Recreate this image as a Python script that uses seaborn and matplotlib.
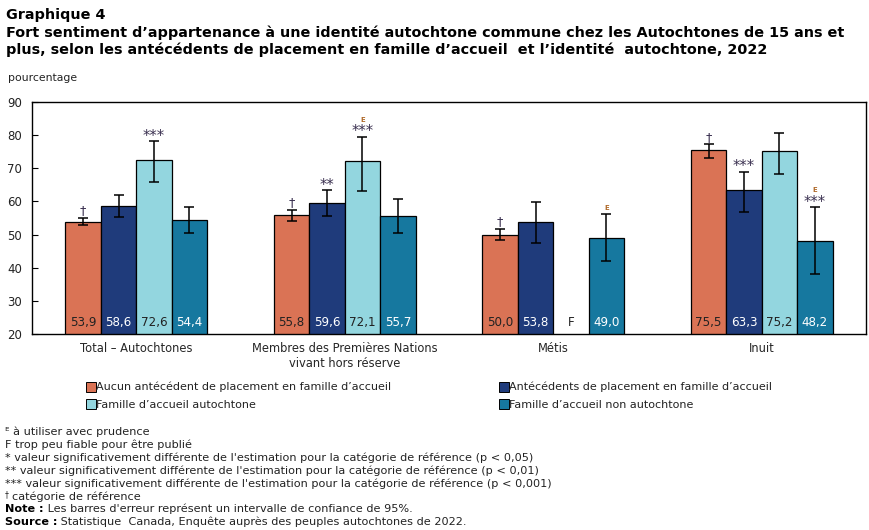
import numpy as np
import pandas as pd
import matplotlib
matplotlib.use("Agg")
import matplotlib.pyplot as plt
import seaborn as sns
from matplotlib.lines import Line2D

# ---------------- data ----------------
categories = ["Total – Autochtones",
              "Membres des Premières Nations\nvivant hors réserve",
              "Métis", "Inuit"]
series_names = ["Aucun antécédent de placement en famille d’accueil",
                "Antécédents de placement en famille d’accueil",
                "Famille d’accueil autochtone",
                "Famille d’accueil non autochtone"]

aucun = [53.9, 55.8, 50.0, 75.5]
antecedents = [58.6, 59.6, 53.8, 63.3]
fam_autochtone = [72.6, 72.1, np.nan, 75.2]
fam_non_autochtone = [54.4, 55.7, 49.0, 48.2]

aucun_lo = [52.8, 54.1, 48.3, 73.0]
aucun_hi = [55.0, 57.4, 51.7, 77.2]
antecedents_lo = [55.3, 55.5, 47.4, 56.7]
antecedents_hi = [61.8, 63.4, 59.9, 68.9]
fam_autochtone_lo = [66.0, 63.2, np.nan, 68.3]
fam_autochtone_hi = [78.2, 79.5, np.nan, 80.6]
fam_non_autochtone_lo = [50.4, 50.4, 42.0, 38.0]
fam_non_autochtone_hi = [58.2, 60.7, 56.1, 58.3]

# significance marks and quality flags
aucun_sig = ["†", "†", "†", "†"]
antecedents_sig = ["", "**", "", "***"]
fam_autochtone_sig = ["***", "***", "", ""]
fam_non_autochtone_sig = ["", "", "", "***"]
aucun_e = ["", "", "", ""]
antecedents_e = ["", "", "", ""]
fam_autochtone_e = ["", "E", "", ""]
fam_non_autochtone_e = ["", "", "E", "E"]

values = [aucun, antecedents, fam_autochtone, fam_non_autochtone]
lows = [aucun_lo, antecedents_lo, fam_autochtone_lo, fam_non_autochtone_lo]
highs = [aucun_hi, antecedents_hi, fam_autochtone_hi, fam_non_autochtone_hi]
sigs = [aucun_sig, antecedents_sig, fam_autochtone_sig, fam_non_autochtone_sig]
eflags = [aucun_e, antecedents_e, fam_autochtone_e, fam_non_autochtone_e]

colors = ["#DA7355", "#1F3B7B", "#93D6DF", "#16789F"]
label_colors = ["#222222", "white", "#222222", "white"]

rows = []
for s, vals in zip(series_names, values):
    for c, v in zip(categories, vals):
        rows.append({"cat": c, "serie": s, "val": v})
df = pd.DataFrame(rows)

# ---------------- figure ----------------
sns.set_theme(style="white")
plt.rcParams["font.family"] = ["DejaVu Sans"]
fig = plt.figure(figsize=(8.7, 5.3), dpi=100)
W, H = 870, 530
ax = fig.add_axes([32 / W, 1 - 334 / H, (866 - 32) / W, (334 - 102) / H])

sns.barplot(data=df.dropna(), x="cat", y="val", hue="serie",
            order=categories, hue_order=series_names, palette=colors,
            width=0.68, gap=0, edgecolor="black", linewidth=0.9,
            errorbar=None, saturation=1, legend=False, ax=ax)

ax.set_ylim(20, 90)
ax.set_xlim(-0.5, 3.5)
ax.set_yticks(range(20, 91, 10))
ax.set_xlabel("")
ax.set_ylabel("")
for sp in ax.spines.values():
    sp.set_visible(True)
    sp.set_color("black")
    sp.set_linewidth(1.0)
ax.tick_params(axis="y", direction="in", length=4, width=0.8, labelsize=8.5,
               pad=7, colors="black", left=True)
ax.tick_params(axis="x", length=0, labelsize=8.3, pad=6)
for lab in ax.get_yticklabels():
    lab.set_color("#222222")

# bars / annotations
bar_containers = list(ax.containers)
bar_w = None
teal_metis_x = None
for si, cont in enumerate(bar_containers):
    valid = [ci for ci, v in enumerate(values[si]) if not np.isnan(v)]
    for bar, ci in zip(cont.patches, valid):
        x = bar.get_x() + bar.get_width() / 2
        bar_w = bar.get_width()
        v = values[si][ci]
        lo, hi = lows[si][ci], highs[si][ci]
        ax.errorbar([x], [v], yerr=[[v - lo], [hi - v]], fmt="none",
                    ecolor="black", elinewidth=1.1, capsize=3.5,
                    capthick=1.1, zorder=5)
        ax.text(x, 21.5, f"{v:.1f}".replace(".", ","), ha="center",
                va="bottom", fontsize=8.6, color=label_colors[si], zorder=6)
        sig = sigs[si][ci]
        ef = eflags[si][ci]
        e_off = 3
        if sig == "†":
            ax.annotate(sig, (x, hi), xytext=(0, 2.6), textcoords="offset points",
                        ha="center", va="baseline", fontsize=9,
                        color="#3a3050", zorder=6)
        elif sig:
            ax.annotate(sig, (x, hi), xytext=(0, 0.4), textcoords="offset points",
                        ha="center", va="baseline", fontsize=10.5,
                        color="#3a3050", zorder=6)
            e_off = 10.8
        if ef:
            ax.annotate(ef, (x, hi), xytext=(0, e_off), textcoords="offset points",
                        ha="center", va="baseline", fontsize=5, color="#B06A2A",
                        fontweight="bold", zorder=6)
        if si == 3 and ci == 2:
            teal_metis_x = x

# "F" for Métis, Famille d'accueil autochtone
if teal_metis_x is not None:
    ax.text(teal_metis_x - bar_w, 21.5, "F", ha="center", va="bottom",
            fontsize=8.6, color="#222222")

# ---------------- texts ----------------
fig.text(6 / W, 1 - 8 / H, "Graphique 4", ha="left", va="top",
         fontsize=10.35, fontweight="bold", color="black")
fig.text(6 / W, 1 - 26 / H,
         "Fort sentiment d’appartenance à une identité autochtone commune chez les Autochtones de 15 ans et\n"
         "plus, selon les antécédents de placement en famille d’accueil  et l’identité  autochtone, 2022",
         ha="left", va="top", fontsize=10.35, fontweight="bold", color="black",
         linespacing=1.2)
fig.text(8 / W, 1 - 78 / H, "pourcentage", ha="left", va="center",
         fontsize=7.8, color="#222222")

# legend
handles = [Line2D([0], [0], marker="s", linestyle="none", markersize=6.5,
                  markerfacecolor=c, markeredgecolor="black", markeredgewidth=0.7)
           for c in colors]
order = [0, 2, 1, 3]
leg = fig.legend([handles[i] for i in order], [series_names[i] for i in order],
                 ncol=2, loc="upper left", bbox_to_anchor=(87 / W, 1 - 382 / H),
                 frameon=False, fontsize=8.0, handlelength=0.7, handletextpad=0.15,
                 columnspacing=9.75, labelspacing=0.65, borderpad=0, borderaxespad=0)
for t in leg.get_texts():
    t.set_color("#222222")

# footnotes
fs = 8.15
y0 = 432
step = 12.85
notes = [
    "ᴱ à utiliser avec prudence",
    "F trop peu fiable pour être publié",
    "* valeur significativement différente de l'estimation pour la catégorie de référence (p < 0,05)",
    "** valeur significativement différente de l'estimation pour la catégorie de référence (p < 0,01)",
    "*** valeur significativement différente de l'estimation pour la catégorie de référence (p < 0,001)",
]
for i, n in enumerate(notes):
    fig.text(5 / W, 1 - (y0 + i * step) / H, n, ha="left", va="center",
             fontsize=fs, color="#222222")
yd = y0 + 5 * step
fig.text(5 / W, 1 - (yd - 2) / H, "†", ha="left", va="center", fontsize=5.5,
         color="#222222")
fig.text(12 / W, 1 - yd / H, "catégorie de référence", ha="left", va="center",
         fontsize=fs, color="#222222")

for i, (b, r) in enumerate([("Note :", " Les barres d'erreur représent un intervalle de confiance de 95%."),
                            ("Source :", " Statistique  Canada, Enquête auprès des peuples autochtones de 2022.")]):
    yy = y0 + (6 + i) * step
    t = fig.text(5 / W, 1 - yy / H, b, ha="left", va="center", fontsize=fs,
                 fontweight="bold", color="black")
    ax.annotate(r, xy=(1, 0), xycoords=t, ha="left", va="bottom", fontsize=fs,
                color="#222222", annotation_clip=False)

fig.savefig("out.png", dpi=100)
